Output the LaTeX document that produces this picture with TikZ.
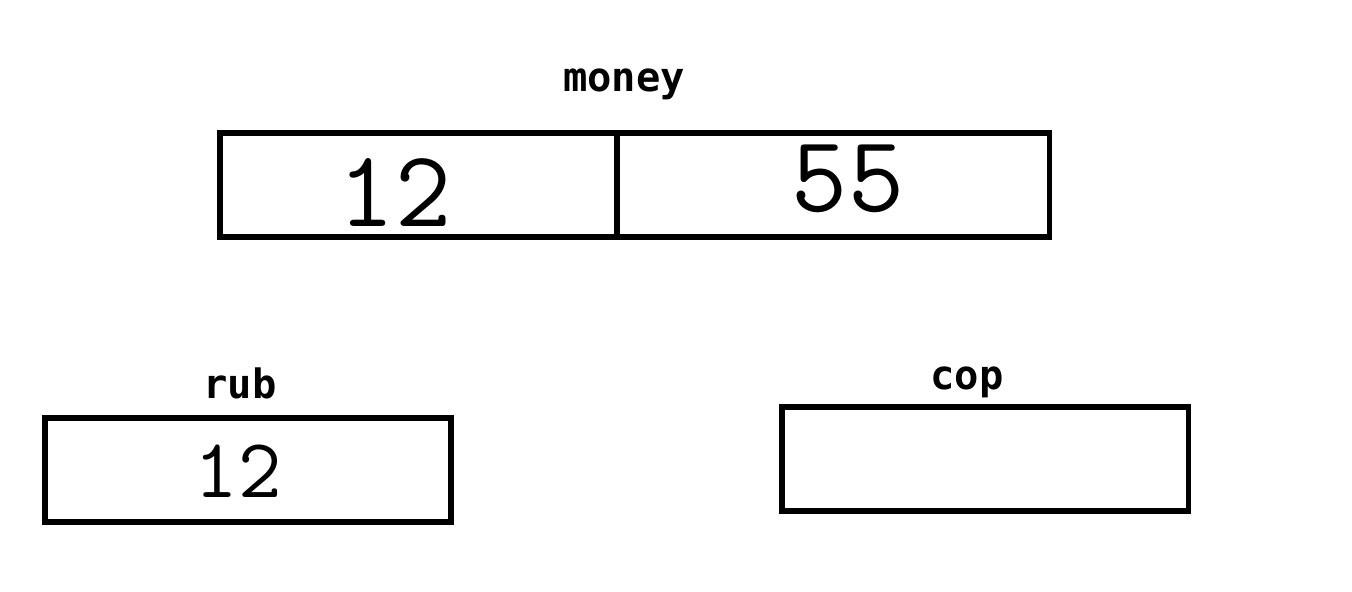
\documentclass[tikz,border=0pt]{standalone}
\usepackage{fontspec}
\usepackage{tikz}
\newfontfamily\tagfont{DejaVu Sans Mono}
\tikzset{cell/.style={draw, line width=1.5pt, inner sep=0pt, outer sep=0pt, minimum height=1.04cm},
	tag/.style={anchor=base, font=\tagfont\bfseries\fontsize{11.5}{13}\selectfont},
	digits/.style={anchor=base, font=\ttfamily\fontsize{31}{31}\selectfont}}
\begin{document}
\begin{tikzpicture}[x=0.01cm, y=-0.01cm, line join=miter]
				\useasboundingbox (0,0) rectangle (1352,592);
				% boxes
				\node[cell, minimum width=3.97cm] (mL) at (418.5,185) {};
				\node[cell, minimum width=4.32cm] (mR) at (833,185) {};
				\node[cell, minimum width=4.06cm] (rub) at (248,470) {};
				\node[cell, minimum width=4.06cm] (cop) at (985,459) {};
				% names
				\foreach \x\y\t in {624/92/money,240/399/rub,967/390/cop}
				\node[tag] (t\t) at (\x,\y) {\t};
				% values
				\node[digits] (vL) at (395,227) {12};
				\node[digits] (vR) at (848,212) {55};
				\node[digits, font=\ttfamily\fontsize{24}{24}\selectfont] (vRub) at (238,498) {12};
		\end{tikzpicture}
\end{document}
